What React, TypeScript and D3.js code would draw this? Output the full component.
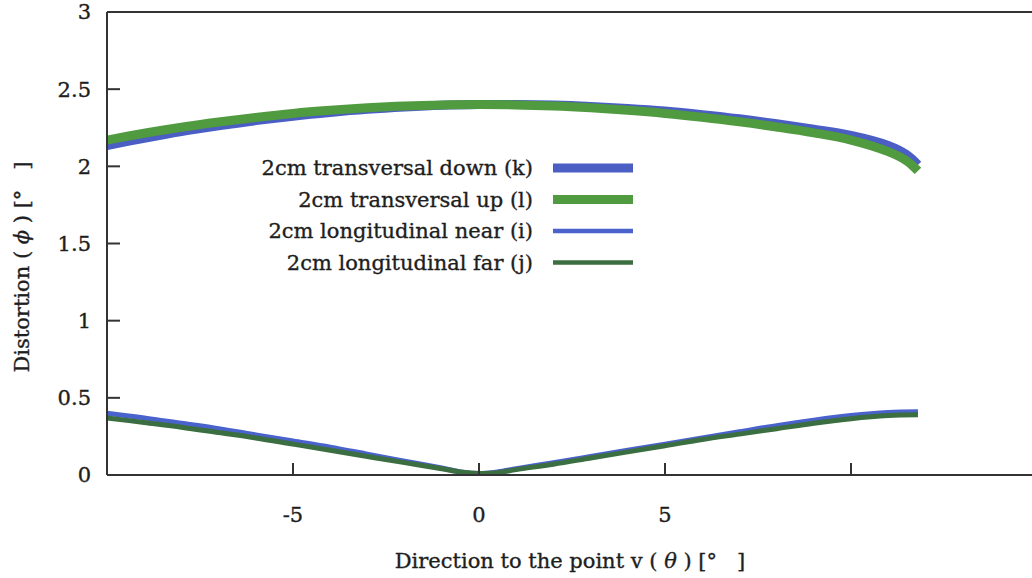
import * as d3 from 'd3';
import React from 'react';

// angle samples (deg)
const thetaUpper = [-10, -9, -8, -7, -6, -5, -4, -3, -2, -1, 0, 1, 2, 3, 4, 5, 6, 7, 8, 9, 10, 11, 11.5, 11.8];
const transDown = [2.135, 2.182, 2.225, 2.262, 2.296, 2.325, 2.349, 2.369, 2.384, 2.395, 2.40, 2.401, 2.397, 2.388, 2.375, 2.358, 2.335, 2.308, 2.276, 2.24, 2.20, 2.135, 2.075, 2.01];
const transUp = [2.17, 2.214, 2.253, 2.287, 2.317, 2.343, 2.363, 2.379, 2.391, 2.398, 2.40, 2.398, 2.391, 2.379, 2.363, 2.343, 2.318, 2.289, 2.255, 2.217, 2.17, 2.095, 2.035, 1.97];

const thetaLower = [-10, -9, -8, -7, -6, -5, -4, -3, -2, -1, -0.5, 0, 0.5, 1, 2, 3, 4, 5, 6, 7, 8, 9, 10, 11, 11.8];
const longNear = [0.40, 0.37, 0.335, 0.30, 0.26, 0.22, 0.18, 0.135, 0.09, 0.045, 0.02, 0.01, 0.02, 0.04, 0.08, 0.12, 0.16, 0.20, 0.24, 0.28, 0.32, 0.355, 0.385, 0.405, 0.41];
const longFar = [0.37, 0.34, 0.31, 0.275, 0.24, 0.20, 0.16, 0.12, 0.08, 0.04, 0.02, 0.01, 0.015, 0.035, 0.07, 0.11, 0.15, 0.19, 0.23, 0.265, 0.30, 0.335, 0.365, 0.385, 0.39];

const xTicks = [-5, 0, 5, 10];
const xTickLabels = ['-5', '0', '5', ''];
const yTicks = [0, 0.5, 1, 1.5, 2, 2.5, 3];
const yTickLabels = ['0', '0.5', '1', '1.5', '2', '2.5', '3'];

const seriesNames = [
  '2cm transversal down (k)',
  '2cm transversal up (l)',
  '2cm longitudinal near (i)',
  '2cm longitudinal far (j)',
];
const seriesColors = ['#4a5ec4', '#509a3f', '#4a62cc', '#3b6e40'];
const seriesWidths = [9, 9, 5, 5];
const legendWidths = [9, 9, 4.5, 4.5];

const App = () => {
  const margin = { left: 107, top: 12 };
  const x = d3.scaleLinear().domain([-10, 15]).range([margin.left, margin.left + 25 * 37.2]);
  const y = d3.scaleLinear().domain([0, 3]).range([475, margin.top]);

  const line = d3.line<[number, number]>()
    .x(d => x(d[0]))
    .y(d => y(d[1]))
    .curve(d3.curveCatmullRom.alpha(0.5));

  const series = [
    { xs: thetaUpper, ys: transDown },
    { xs: thetaUpper, ys: transUp },
    { xs: thetaLower, ys: longNear },
    { xs: thetaLower, ys: longFar },
  ];

  const font = '"DejaVu Serif", serif';
  const txt = { fontFamily: font, fill: '#1e1e1e', stroke: '#1e1e1e', strokeWidth: 0.35 };
  const x0 = x(-10), x1 = x(15), yb = y(0), yt = y(3);

  return (
    <div>
      <style>{'body{margin:0}'}</style>
      <svg width={1032} height={578} style={{ display: 'block', background: '#fff' }}>
        {/* series */}
        {series.map((s, i) => (
          <path key={i}
            d={line(s.xs.map((v, j) => [v, s.ys[j]] as [number, number])) || ''}
            fill="none" stroke={seriesColors[i]} strokeWidth={seriesWidths[i]} />
        ))}

        {/* frame */}
        <g stroke="#333" strokeWidth={2} fill="none">
          <line x1={x0} y1={yt} x2={x1} y2={yt} />
          <line x1={x0} y1={yb} x2={x1} y2={yb} />
          <line x1={x0} y1={yt} x2={x0} y2={yb} />
          <line x1={x1} y1={yt} x2={x1} y2={yb} />
        </g>

        {/* y ticks */}
        {yTicks.map((t, i) => (
          <g key={'y' + i}>
            <line x1={x0} x2={x0 + 13} y1={y(t)} y2={y(t)} stroke="#333" strokeWidth={2} />
            <text x={x0 - 16} y={y(t)} dy="0.35em" textAnchor="end" fontSize={21} {...txt}>
              {yTickLabels[i]}
            </text>
          </g>
        ))}

        {/* x ticks */}
        {xTicks.map((t, i) => (
          <g key={'x' + i}>
            <line x1={x(t)} x2={x(t)} y1={yb} y2={yb - 12} stroke="#333" strokeWidth={2} />
            <text x={x(t)} y={yb + 47} textAnchor="middle" fontSize={21} {...txt}>
              {xTickLabels[i]}
            </text>
          </g>
        ))}

        {/* axis titles */}
        <text x={570} y={568} textAnchor="middle" fontSize={21} {...txt} xmlSpace="preserve">
          {'Direction to the point v ( '}<tspan fontStyle="italic">θ</tspan>{' ) [°   ]'}
        </text>
        <text transform="translate(29,267) rotate(-90)" textAnchor="middle" fontSize={21} {...txt}
          xmlSpace="preserve">
          {'Distortion ( '}<tspan fontStyle="italic">ϕ</tspan>{' ) [°   ]'}
        </text>

        {/* legend */}
        {seriesNames.map((name, i) => {
          const ly = 168 + i * 31.5;
          return (
            <g key={'l' + i}>
              <text x={533} y={ly} dy="0.35em" textAnchor="end" fontSize={21} {...txt}>{name}</text>
              <line x1={553} x2={633} y1={ly} y2={ly}
                stroke={seriesColors[i]} strokeWidth={legendWidths[i]} />
            </g>
          );
        })}
      </svg>
    </div>
  );
};

export default App;
